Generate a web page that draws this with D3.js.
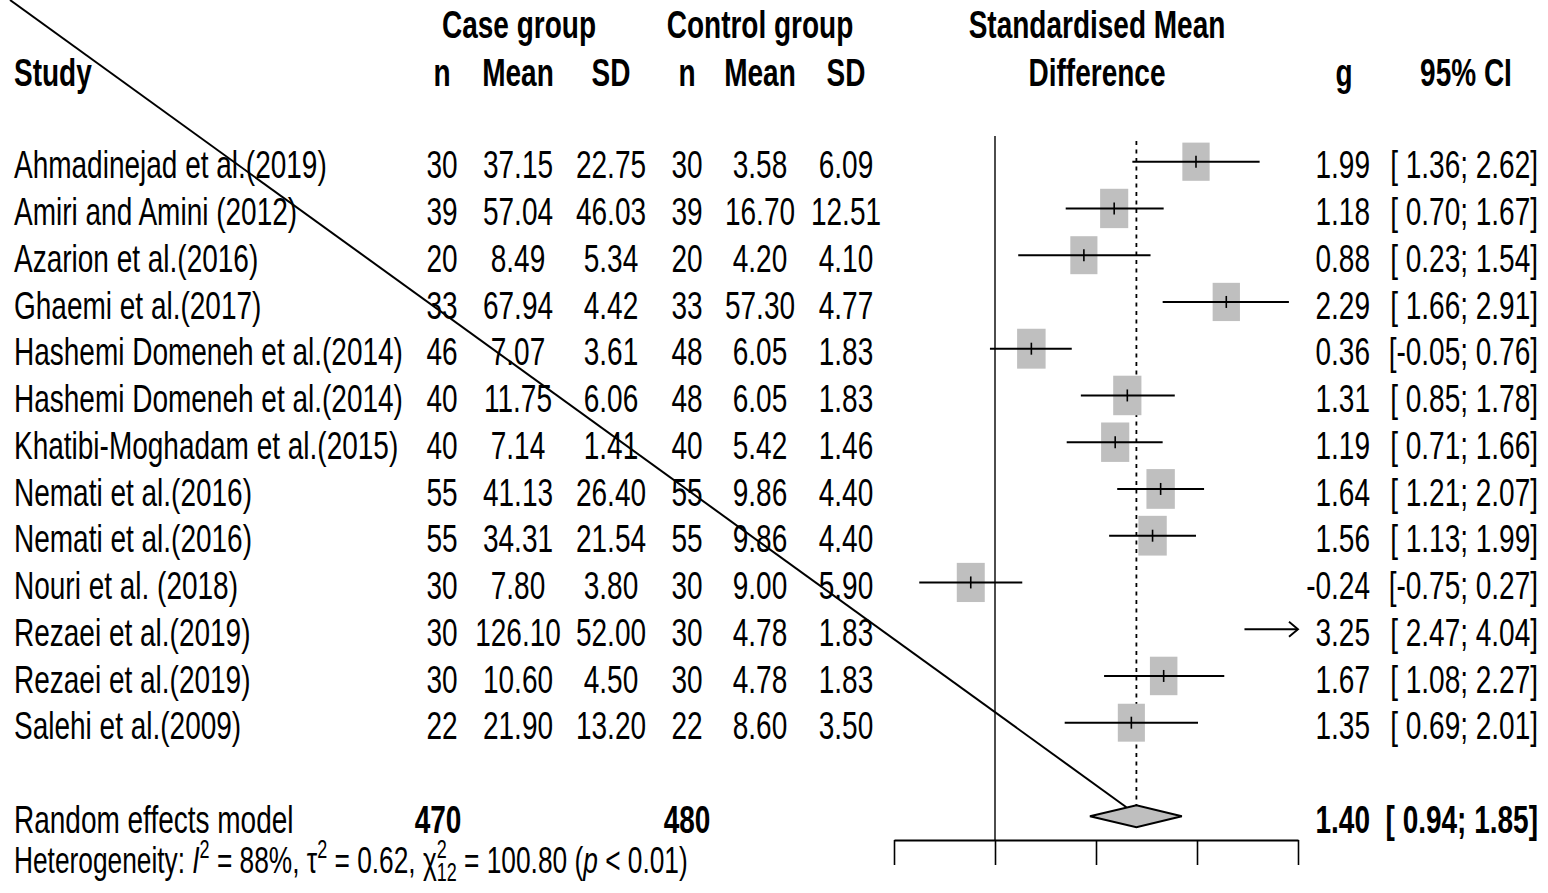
<!DOCTYPE html>
<html>
<head>
<meta charset="utf-8">
<script src="https://cdnjs.cloudflare.com/ajax/libs/d3/7.8.5/d3.min.js"></script>
<style>
  body { margin: 0; background: #fff; }
  svg { display: block; }
  text { font-family: 'Liberation Sans', Arial, sans-serif; fill: #000; }
</style>
</head>
<body>
<div id="chart"></div>
<script>
// ---- data ----
var studies = [
  'Ahmadinejad et al.(2019)', 'Amiri and Amini (2012)', 'Azarion et al.(2016)',
  'Ghaemi et al.(2017)', 'Hashemi Domeneh et al.(2014)', 'Hashemi Domeneh et al.(2014)',
  'Khatibi-Moghadam et al.(2015)', 'Nemati et al.(2016)', 'Nemati et al.(2016)',
  'Nouri et al. (2018)', 'Rezaei et al.(2019)', 'Rezaei et al.(2019)', 'Salehi et al.(2009)'
];
var caseN    = [30, 39, 20, 33, 46, 40, 40, 55, 55, 30, 30, 30, 22];
var caseMean = [37.15, 57.04, 8.49, 67.94, 7.07, 11.75, 7.14, 41.13, 34.31, 7.80, 126.10, 10.60, 21.90];
var caseSD   = [22.75, 46.03, 5.34, 4.42, 3.61, 6.06, 1.41, 26.40, 21.54, 3.80, 52.00, 4.50, 13.20];
var ctrlN    = [30, 39, 20, 33, 48, 48, 40, 55, 55, 30, 30, 30, 22];
var ctrlMean = [3.58, 16.70, 4.20, 57.30, 6.05, 6.05, 5.42, 9.86, 9.86, 9.00, 4.78, 4.78, 8.60];
var ctrlSD   = [6.09, 12.51, 4.10, 4.77, 1.83, 1.83, 1.46, 4.40, 4.40, 5.90, 1.83, 1.83, 3.50];
var smd      = [1.99, 1.18, 0.88, 2.29, 0.36, 1.31, 1.19, 1.64, 1.56, -0.24, 3.25, 1.67, 1.35];
var ciLow    = [1.36, 0.70, 0.23, 1.66, -0.05, 0.85, 0.71, 1.21, 1.13, -0.75, 2.47, 1.08, 0.69];
var ciHigh   = [2.62, 1.67, 1.54, 2.91, 0.76, 1.78, 1.66, 2.07, 1.99, 0.27, 4.04, 2.27, 2.01];

var pooled   = [1.40, 0.94, 1.85];   // g, lower, upper
var totals   = [470, 480];           // case n, control n
var hetero   = [88, 0.62, 100.80, 12]; // I2 %, tau2, chi2, df
var axisTicks = [-1, 0, 1, 2, 3];

// ---- layout ----
var W = 1548, H = 893;
var FS = 28, STRETCH = 1.4;          // text is drawn tall and narrow like the source
function f2(v) { return (+v).toFixed(2); }

var svg = d3.select('#chart').append('svg')
  .attr('width', W).attr('height', H);

var x = d3.scaleLinear().domain([-1, 3]).range([894, 1298]);
var y = d3.scaleLinear().domain([0, 1]).range([161.7, 208.45]);
var baseOff = 16.6;

var col = { study: 14, n1: 442, mean1: 518, sd1: 611, n2: 687, mean2: 760, sd2: 846, g: 1370, ci: 1538 };

function txt(px, py, s, anchor, bold) {
  return svg.append('text')
    .attr('transform', 'translate(' + px + ',' + py + ') scale(1,' + STRETCH + ')')
    .attr('text-anchor', anchor || 'start')
    .attr('font-size', FS)
    .attr('font-weight', bold ? 'bold' : 'normal')
    .style('white-space', 'pre')
    .text(s);
}

function ciText(lo, hi) {
  var a = lo < 0 ? f2(lo) : ' ' + f2(lo);
  return '[' + a + '; ' + f2(hi) + ']';
}

// headers
txt(col.study, 86, 'Study', 'start', true);
txt(519, 38, 'Case group', 'middle', true);
txt(760, 38, 'Control group', 'middle', true);
[['n', col.n1], ['Mean', col.mean1], ['SD', col.sd1], ['n', col.n2], ['Mean', col.mean2], ['SD', col.sd2]]
  .forEach(function(h) { txt(h[1], 86, h[0], 'middle', true); });
txt(x(1) + 1, 38, 'Standardised Mean', 'middle', true);
txt(x(1) + 1, 86, 'Difference', 'middle', true);
txt(1344, 86, 'g', 'middle', true);
txt(1466, 86, '95% CI', 'middle', true);

// study rows text
studies.forEach(function(s, i) {
  var by = y(i) + baseOff;
  txt(col.study, by, s, 'start');
  txt(col.n1, by, caseN[i], 'middle');
  txt(col.mean1, by, f2(caseMean[i]), 'middle');
  txt(col.sd1, by, f2(caseSD[i]), 'middle');
  txt(col.n2, by, ctrlN[i], 'middle');
  txt(col.mean2, by, f2(ctrlMean[i]), 'middle');
  txt(col.sd2, by, f2(ctrlSD[i]), 'middle');
  txt(col.g, by, f2(smd[i]), 'end');
  txt(col.ci, by, ciText(ciLow[i], ciHigh[i]), 'end');
});

// summary row
var yS = y(14);
txt(col.study, yS + baseOff, 'Random effects model', 'start');
txt(col.n1 - 4, yS + baseOff, totals[0], 'middle', true);
txt(col.n2, yS + baseOff, totals[1], 'middle', true);
txt(col.g, yS + baseOff, f2(pooled[0]), 'end', true);
txt(col.ci, yS + baseOff, ciText(pooled[1], pooled[2]), 'end', true);

// heterogeneity line (set a little smaller than the table text)
var HFS = 26.3, SUP = 18;
var het = svg.append('text')
  .attr('transform', 'translate(' + col.study + ',873) scale(1,' + STRETCH + ')')
  .attr('font-size', HFS).style('white-space', 'pre');
het.append('tspan').text('Heterogeneity: ');
het.append('tspan').attr('font-style', 'italic').text('I');
het.append('tspan').attr('font-size', SUP).attr('dy', -11).text('2');
het.append('tspan').attr('dy', 11).text(' = ' + hetero[0] + '%, ');
het.append('tspan').text('\u03c4');
het.append('tspan').attr('font-size', SUP).attr('dy', -11).text('2');
het.append('tspan').attr('dy', 11).text(' = ' + f2(hetero[1]) + ', ');
het.append('tspan').text('\u03c7');
het.append('tspan').attr('font-size', SUP).attr('dy', -11).text('2');
het.append('tspan').attr('font-size', SUP).attr('dx', -SUP * 0.556).attr('dy', 17).text(hetero[3]);
het.append('tspan').attr('dy', -6).text(' = ' + f2(hetero[2]) + ' (');
het.append('tspan').attr('font-style', 'italic').text('p');
het.append('tspan').text(' < 0.01)');

// ---- plot region ----
var axisY = 840;

// reference lines
svg.append('line')
  .attr('x1', x(0)).attr('x2', x(0)).attr('y1', 136).attr('y2', axisY)
  .attr('stroke', '#000').attr('stroke-width', 1.4);
svg.append('line')
  .attr('x1', x(pooled[0])).attr('x2', x(pooled[0])).attr('y1', 141).attr('y2', yS - 11)
  .attr('stroke', '#000').attr('stroke-width', 1.8).attr('stroke-dasharray', '4,4.5');

// random effects weights -> square size
var se = ciHigh.map(function(h, i) { return (h - ciLow[i]) / (2 * 1.96); });
var wt = se.map(function(s) { return 1 / (s * s + hetero[1]); });
var wMax = d3.max(wt);
var side = d3.scaleSqrt().domain([0, wMax]).range([0, 28.5]);

var rows = svg.append('g');
smd.forEach(function(v, i) {
  var cy = y(i);
  var inside = v >= -1 && v <= 3;
  if (inside) {
    var sw = side(wt[i]), sh = sw * STRETCH;
    rows.append('rect')
      .attr('x', x(v) - sw / 2).attr('y', cy - sh / 2)
      .attr('width', sw).attr('height', sh)
      .attr('fill', '#bfbfbf');
  }
  var lo = Math.max(ciLow[i], -1), hi = Math.min(ciHigh[i], 3);
  rows.append('line')
    .attr('x1', x(lo)).attr('x2', x(hi)).attr('y1', cy).attr('y2', cy)
    .attr('stroke', '#000').attr('stroke-width', 1.9);
  if (ciHigh[i] > 3) {
    rows.append('polyline')
      .attr('points', [[x(3) - 9, cy - 7.5], [x(3), cy], [x(3) - 9, cy + 7.5]].join(' '))
      .attr('fill', 'none').attr('stroke', '#000').attr('stroke-width', 1.9);
  }
  if (inside) {
    rows.append('line')
      .attr('x1', x(v)).attr('x2', x(v)).attr('y1', cy - 6).attr('y2', cy + 6)
      .attr('stroke', '#000').attr('stroke-width', 1.6);
  }
});

// stray diagonal stroke running from the top-left corner to the diamond
svg.append('line')
  .attr('x1', 10).attr('y1', 0)
  .attr('x2', x(pooled[0]) - 10).attr('y2', yS - 9)
  .attr('stroke', '#000').attr('stroke-width', 2);

// pooled diamond
svg.append('path')
  .attr('d', 'M' + x(pooled[1]) + ',' + yS + 'L' + x(pooled[0]) + ',' + (yS - 11) +
    'L' + x(pooled[2]) + ',' + yS + 'L' + x(pooled[0]) + ',' + (yS + 11) + 'Z')
  .attr('fill', '#bfbfbf').attr('stroke', '#000').attr('stroke-width', 2);

// x axis without labels
var ax = svg.append('g')
  .attr('transform', 'translate(0,' + axisY + ')')
  .call(d3.axisBottom(x).tickValues(axisTicks).tickSize(25).tickSizeOuter(0).tickFormat(''));
ax.select('.domain').attr('stroke-width', 2.2);
ax.selectAll('.tick line').attr('stroke-width', 1.6);
</script>
</body>
</html>
